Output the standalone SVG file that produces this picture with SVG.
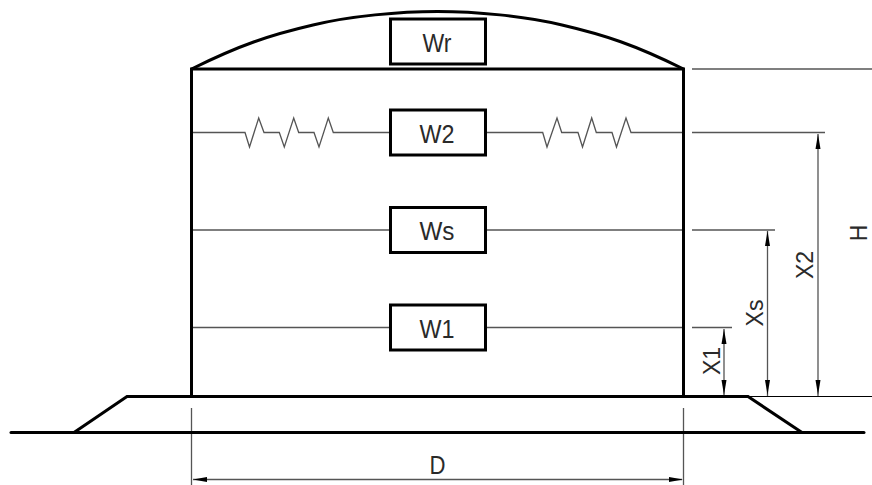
<svg xmlns="http://www.w3.org/2000/svg" width="872" height="485" viewBox="0 0 872 485">
<style>
.h{fill:none;stroke:#000;stroke-width:3;stroke-linejoin:miter}
.t{fill:none;stroke:#555;stroke-width:1.3}
.b{fill:#fff;stroke:#000;stroke-width:3}
.a{fill:#000;stroke:none}
text{font-family:"Liberation Sans",Arial,sans-serif;fill:#2a2a2a;text-anchor:middle}
.w{font-size:25px}
.r{font-size:23px}
</style>
<defs>
<path id="au" class="a" d="M0 0L2.500 15H-2.500Z"/>
<path id="ad" class="a" d="M0 0L2.500 -15H-2.500Z"/>
</defs>
<g id="connectors">
<path class="t" d="M192 132.500H245L249.500 147L258.700 118L264 132.500H279.300L284.300 147L293.700 118L298.700 132.500H314L319 147L328.300 118L333.300 132.500H390"/>
<path class="t" d="M485 132.500H542.700L547 147L557 118L561.700 132.500H578L582.500 147L591.700 118L596.300 132.500H612L616.500 147L626 118L631 132.500H683"/>
<path class="t" d="M192 230H390M485 230H683M192 327.500H390M485 327.500H683"/>
<path class="t" d="M692 69H872M692 132.500H825M692 230H775M692 327.500H732"/>
<path class="t" d="M818 134V396M767.500 231V396M724 329V396M191.500 408V485M683.500 408V485M193 479.500H682"/>
<path fill="none" stroke="#000" stroke-width="1.200" d="M748 396.500H872"/>
<use href="#au" x="818" y="134"/><use href="#ad" x="818" y="395"/>
<use href="#au" x="767.500" y="231"/><use href="#ad" x="767.500" y="395"/>
<use href="#au" x="724" y="329"/><use href="#ad" x="724" y="395"/>
<path class="a" d="M193 479.500L207 477V482Z"/><path class="a" d="M683 479.500L669 477V482Z"/>
</g>
<g id="tank">
<path class="h" d="M191.500 396V69H683.500V396"/>
<path class="h" d="M191.500 69C240 45 270 35 313 25C350 16 400 11.500 437.500 11.500C475 11.500 525 16 562 25C605 35 635 45 683.500 69"/>
</g>
<g id="ground">
<path class="h" d="M74 432.500L127 396.500H748L802 432.500"/>
<path class="h" d="M11 432.500H864" stroke-linecap="round"/>
</g>
<g id="Wr"><rect class="b" x="390.500" y="19" width="95" height="45"/><text class="w" x="437" y="51.500" textLength="29" lengthAdjust="spacingAndGlyphs">Wr</text></g>
<g id="W2"><rect class="b" x="390.500" y="110" width="95" height="45"/><text class="w" x="437" y="142.500" textLength="35" lengthAdjust="spacingAndGlyphs">W2</text></g>
<g id="Ws"><rect class="b" x="390.500" y="207.500" width="95" height="45"/><text class="w" x="437" y="240" textLength="35" lengthAdjust="spacingAndGlyphs">Ws</text></g>
<g id="W1"><rect class="b" x="390.500" y="305" width="95" height="45"/><text class="w" x="437" y="337.500" textLength="35" lengthAdjust="spacingAndGlyphs">W1</text></g>
<g id="labels">
<text class="r" transform="translate(719.500 361) rotate(-90)">X1</text>
<text class="r" transform="translate(762.500 313) rotate(-90)">Xs</text>
<text class="r" transform="translate(813 265) rotate(-90)">X2</text>
<text class="r" transform="translate(867 233) rotate(-90)">H</text>
<text class="w" x="437.500" y="474" textLength="16" lengthAdjust="spacingAndGlyphs">D</text>
</g>
</svg>
